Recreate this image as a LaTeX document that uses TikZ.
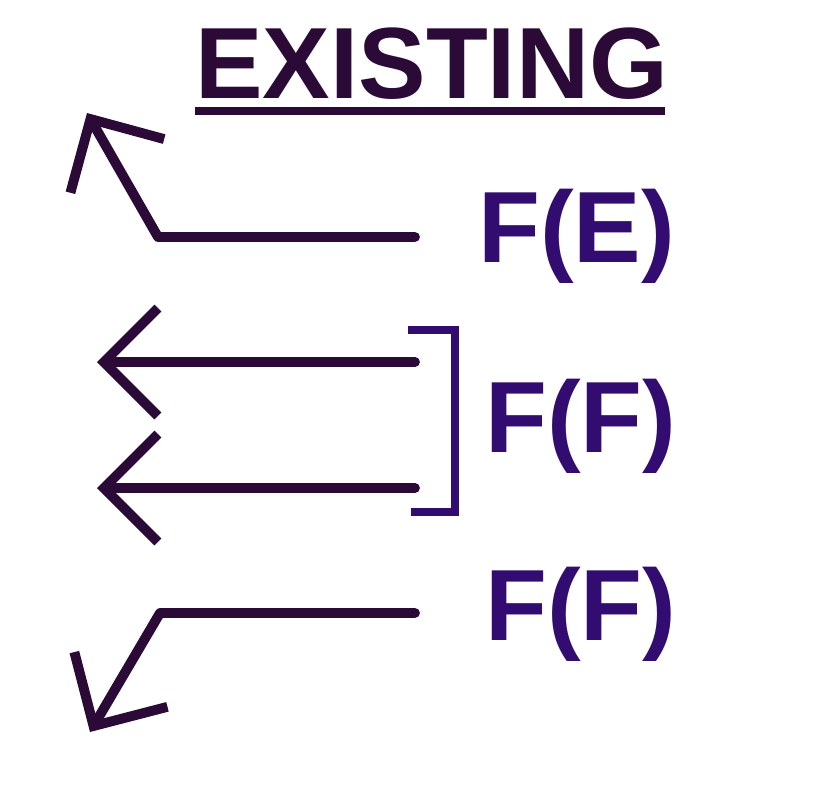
\documentclass[tikz,border=0pt]{standalone}
\usepackage{fontspec}
\setmainfont{Liberation Sans}
\usetikzlibrary{arrows.meta, positioning}
\definecolor{plum}{HTML}{2C0A38}
\definecolor{ink}{HTML}{320C70}
\tikzset{
    heading/.style = {
        inner sep = 0pt,
        anchor = base west,
        text = plum,
        font = \fontsize{72}{72}\selectfont\bfseries
    },
    fname/.style = {
        inner sep = 0pt,
        anchor = base west,
        text = ink,
        font = \fontsize{72}{72}\selectfont\bfseries
    },
    flow/.style = {
        draw = plum,
        line width = 7pt,
        line cap = round,
        line join = round,
        -{Straight Barb[length=1.35cm, width=2.7cm]}
    },
    rule/.style = {
        draw = plum,
        line width = 5.5pt
    },
    brace/.style = {
        draw = ink,
        line width = 5.5pt,
        line join = miter
    }
}

\begin{document}
\begin{tikzpicture}[x=0.025cm, y=-0.025cm]
    \useasboundingbox (0,0) rectangle (818,790);
    % title
    \node[heading] (title) at (195,98) {EXISTING};
    \draw[rule] (195,111) -- (665,111);
    % labels
    \node[fname] (fe) at (478,262) {F(E)};
    \node[fname] (ff) at (485,452) {F(F)};
    \node[fname] (ffb) at (485,640) {F(F)};
    % arrow ends
    \coordinate (e0) at (415,237);
    \coordinate (e1) at (158,237);
    \coordinate (e2) at (87,113);
    \coordinate (a0) at (415,362);
    \coordinate (a1) at (97,362);
    \coordinate (b0) at (415,488);
    \coordinate (b1) at (97,488);
    \coordinate (f0) at (415,613);
    \coordinate (f1) at (160,613);
    \coordinate (f2) at (90,732);
    \draw[flow] (e0) -- (e1) -- (e2);
    \draw[flow] (a0) -- (a1);
    \draw[flow] (b0) -- (b1);
    \draw[flow] (f0) -- (f1) -- (f2);
    % bracket
    \draw[brace] (408,330) -- (455,330) -- (455,512) -- (411,512);
\end{tikzpicture}
\end{document}
